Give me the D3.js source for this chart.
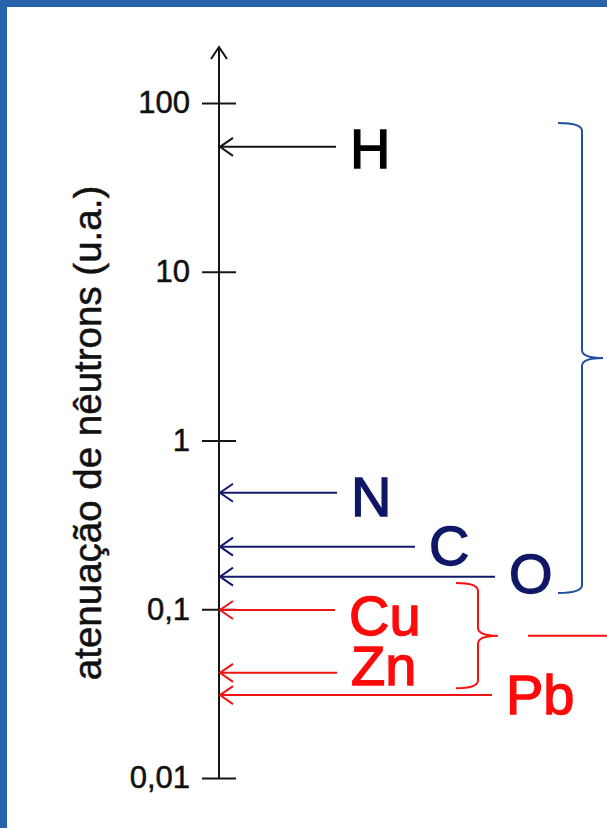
<!DOCTYPE html>
<html>
<head>
<meta charset="utf-8">
<script src="https://cdn.jsdelivr.net/npm/d3@7"></script>
<style>
  html, body { margin: 0; padding: 0; background: #fff; }
  svg { display: block; }
</style>
</head>
<body>
<div id="chart"></div>
<script>
// values
const elements = ["H", "N", "C", "O", "Cu", "Zn", "Pb"];
const attenuation = [55, 0.49, 0.235, 0.156, 0.099, 0.042, 0.031];
const elementGroup = ["light", "light", "light", "light", "heavy", "heavy", "heavy"];

const tickValues = [100, 10, 1, 0.1, 0.01];
const tickLabels = ["100", "10", "1", "0,1", "0,01"];
const yTitle = "atenuação de nêutrons (u.a.)";

// braces: group, top value, bottom value
const braceGroups = ["light", "heavy"];
const braceTop = [76, 0.143];
const braceBottom = [0.125, 0.034];

const width = 607;
const height = 828;
const axisX = 219;

const colors = { axis: "#161616", light: "#12196b", heavy: "#f01515" };
const textColors = { light: "#0f1766", heavy: "#ff0a0a" };
const braceColors = { light: "#1f4f9e", heavy: "#ff1010" };

// where each arrow tail stops and how the label sits next to it
const arrowEnd = { H: 336, N: 337, C: 415, O: 495, Cu: 335, Zn: 337, Pb: 492 };
const labelDy = { H: 21, N: 23, C: 18, O: 16, Cu: 25, Zn: 12, Pb: 19 };
const braceX = { light: [558, 582, 603], heavy: [456, 478, 498] };

const font = "'Liberation Sans', Arial, sans-serif";

const svg = d3.select("#chart")
    .append("svg")
    .attr("width", width)
    .attr("height", height);

svg.append("rect").attr("width", width).attr("height", height).attr("fill", "#fff");
// slide frame (top and left edges)
svg.append("rect").attr("x", 0).attr("y", 0).attr("width", width).attr("height", 7).attr("fill", "#2862ab");
svg.append("rect").attr("x", 0).attr("y", 0).attr("width", 7).attr("height", height).attr("fill", "#2862ab");

const y = d3.scaleLog()
    .domain([0.01, 100])
    .range([778, 103]);

// vertical axis line with arrow at the top
svg.append("line")
    .attr("x1", axisX).attr("x2", axisX)
    .attr("y1", 47).attr("y2", y(0.01))
    .attr("stroke", colors.axis)
    .attr("stroke-width", 2);
svg.append("path")
    .attr("d", `M${axisX - 8},${59} L${axisX},${47} L${axisX + 8},${59}`)
    .attr("fill", "none")
    .attr("stroke", colors.axis)
    .attr("stroke-width", 2);

const axis = d3.axisLeft(y)
    .tickValues(tickValues)
    .tickSize(17)
    .tickPadding(12)
    .tickFormat((d, i) => tickLabels[i]);

const gAxis = svg.append("g")
    .attr("transform", `translate(${axisX},0)`)
    .call(axis);

gAxis.select(".domain").remove();
gAxis.selectAll(".tick line")
    .attr("x1", 17)
    .attr("stroke", colors.axis)
    .attr("stroke-width", 2);
gAxis.selectAll(".tick text")
    .attr("fill", "#111")
    .attr("stroke", "#111")
    .attr("stroke-width", 0.5)
    .style("font-family", font)
    .style("font-size", "31px");

// axis title
svg.append("text")
    .attr("transform", `translate(101,${(188 + 678) / 2}) rotate(-90)`)
    .attr("text-anchor", "middle")
    .attr("fill", "#111")
    .attr("stroke", "#111")
    .attr("stroke-width", 0.5)
    .style("font-family", font)
    .style("font-size", "38.5px")
    .text(yTitle);

// arrows pointing at the axis
const rows = elements.map((el, i) => ({ el, value: attenuation[i], group: elementGroup[i] }));
const arrowColor = d => d.el === "H" ? colors.axis : colors[d.group];
const labelColor = d => d.el === "H" ? "#000" : textColors[d.group];

const arrows = svg.selectAll("g.arrow")
    .data(rows)
    .enter()
    .append("g")
    .attr("class", "arrow")
    .attr("transform", d => `translate(0,${y(d.value)})`);

arrows.append("line")
    .attr("x1", axisX + 1)
    .attr("x2", d => arrowEnd[d.el])
    .attr("y1", 0).attr("y2", 0)
    .attr("stroke", arrowColor)
    .attr("stroke-width", 2);

arrows.append("path")
    .attr("d", `M${axisX + 14},-9 L${axisX + 1},0 L${axisX + 14},9`)
    .attr("fill", "none")
    .attr("stroke", arrowColor)
    .attr("stroke-width", 2);

arrows.append("text")
    .attr("x", d => arrowEnd[d.el] + 14)
    .attr("y", d => labelDy[d.el])
    .attr("fill", labelColor)
    .attr("stroke", labelColor)
    .attr("stroke-width", 1.4)
    .style("font-family", font)
    .style("font-size", "56px")
    .text(d => d.el);

// curly braces
function bracePath(x0, xv, xt, y0, y1, r) {
    const ym = (y0 + y1) / 2;
    return `M${x0},${y0} Q${xv},${y0} ${xv},${y0 + r} L${xv},${ym - r} Q${xv},${ym} ${xt},${ym}` +
        ` Q${xv},${ym} ${xv},${ym + r} L${xv},${y1 - r} Q${xv},${y1} ${x0},${y1}`;
}

braceGroups.forEach((g, i) => {
    const [x0, xv, xt] = braceX[g];
    const y0 = y(braceTop[i]);
    const y1 = y(braceBottom[i]);
    svg.append("path")
        .attr("d", bracePath(x0, xv, xt, y0, y1, 8))
        .attr("fill", "none")
        .attr("stroke", braceColors[g])
        .attr("stroke-width", 2);
    if (g === "heavy") {
        svg.append("line")
            .attr("x1", 528).attr("x2", width)
            .attr("y1", (y0 + y1) / 2).attr("y2", (y0 + y1) / 2)
            .attr("stroke", braceColors[g])
            .attr("stroke-width", 2);
    }
});
</script>
</body>
</html>
